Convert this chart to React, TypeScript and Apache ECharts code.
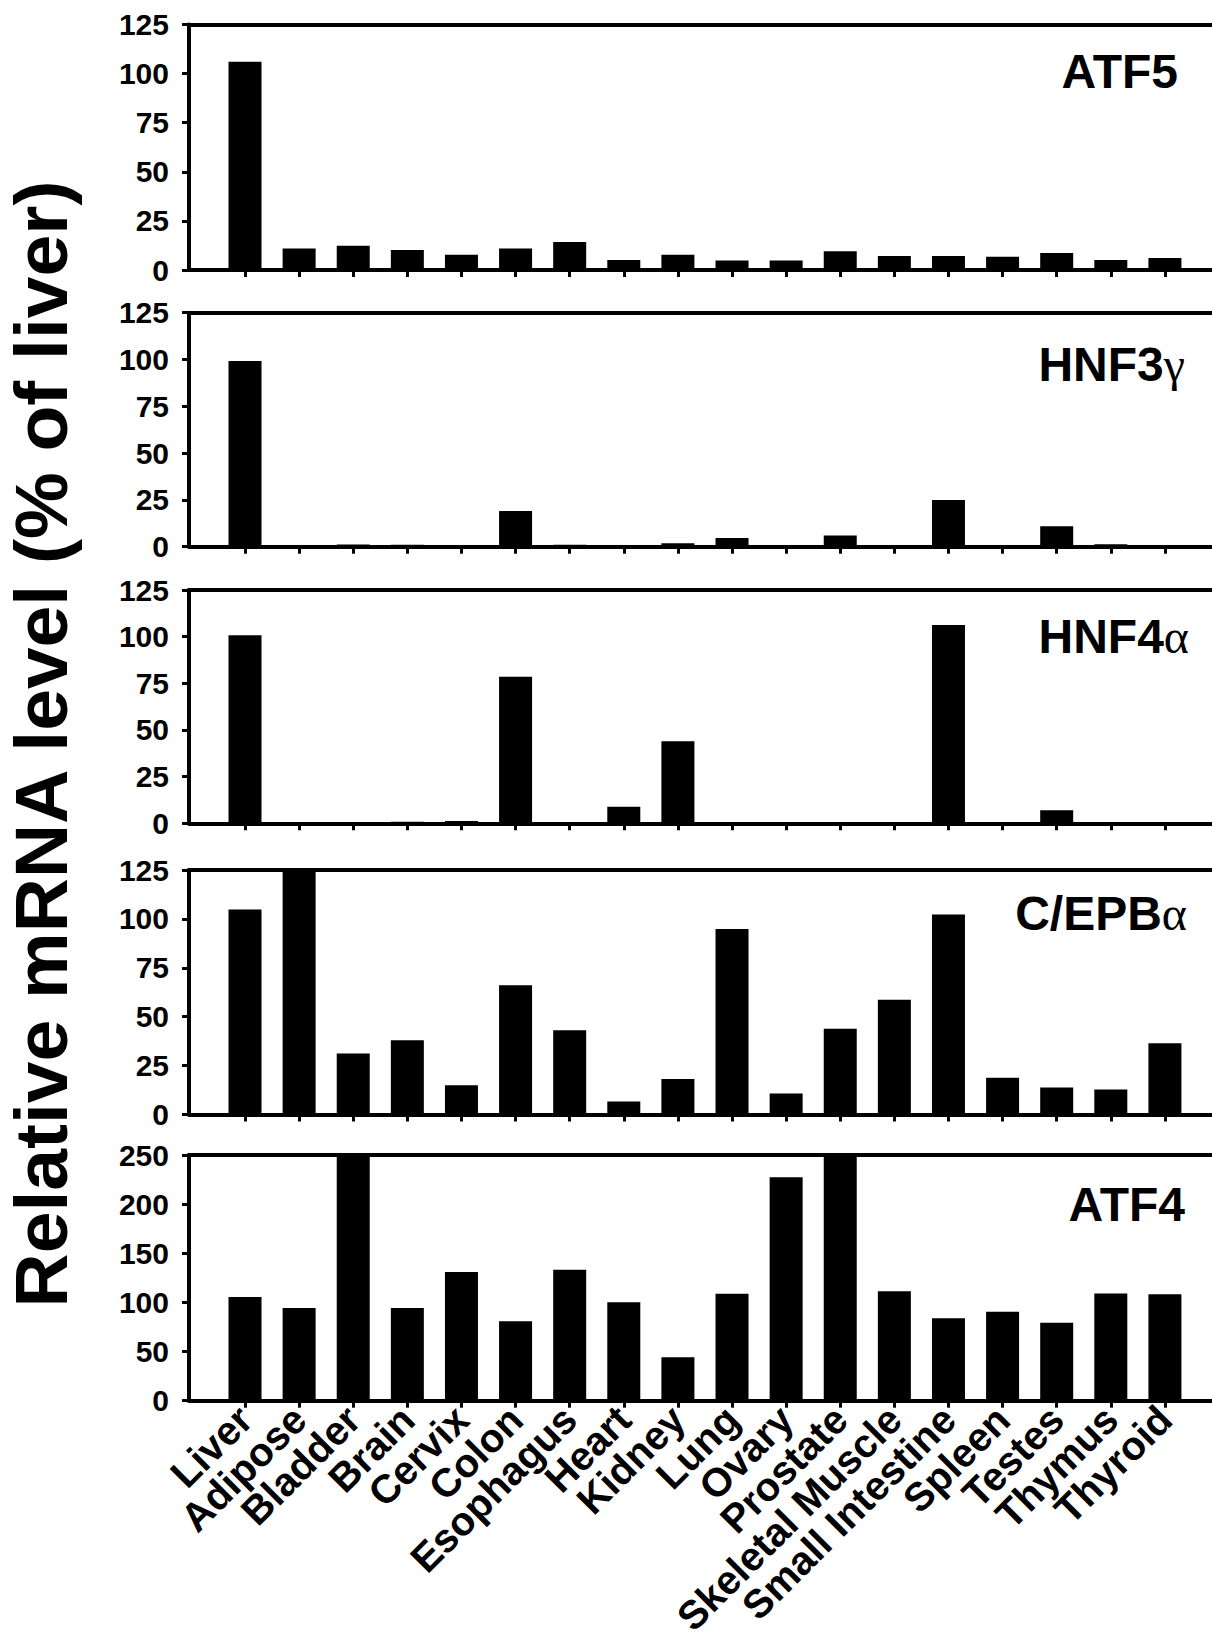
import React, { useEffect, useRef } from "react";
import * as echarts from "echarts";

// ---------- data ----------
const tissues = [
  "Liver", "Adipose", "Bladder", "Brain", "Cervix", "Colon", "Esophagus", "Heart", "Kidney",
  "Lung", "Ovary", "Prostate", "Skeletal Muscle", "Small Intestine", "Spleen", "Testes", "Thymus", "Thyroid",
];

const atf5 = [106, 11, 12.3, 10.2, 7.8, 11, 14.2, 5.1, 7.8, 4.9, 4.9, 9.5, 7.1, 7.1, 6.8, 8.6, 5.1, 6.1];
const hnf3g = [99.2, 0.9, 1.2, 1.0, 0.9, 19.1, 1.1, 0, 1.8, 4.6, 0, 6.0, 0, 24.9, 0, 10.9, 1.3, 0.7];
const hnf4a = [100.7, 0, 0, 0.8, 1.2, 78.5, 0, 8.9, 43.9, 0, 0, 0, 0, 106.2, 0, 7.0, 0, 0];
const cebpa = [104.8, 125, 31.2, 38.0, 14.9, 66.1, 43.1, 6.7, 18.1, 94.8, 10.8, 43.9, 58.7, 102.3, 18.8, 13.8, 12.8, 36.4];
const atf4 = [105.5, 94.3, 250, 94.3, 131, 80.8, 133.3, 100.1, 44.1, 108.9, 227.3, 250, 111.3, 83.8, 90.5, 79.3, 109.2, 108.2];

const panelNames = ["ATF5", "HNF3", "HNF4", "C/EPB", "ATF4"];
const panelGreek = ["", "γ", "α", "α", ""];
const panelSeries = [atf5, hnf3g, hnf4a, cebpa, atf4];
const yMax = [125, 125, 125, 125, 250];
const yStep = [25, 25, 25, 25, 50];
const yTitle = "Relative mRNA level (% of liver)";

// ---------- layout ----------
const panelTop = [24.5, 312.7, 590, 870, 1155];
const panelHeight = [245.5, 234, 233.3, 244.5, 245.7];
const titleRight = [1178, 1185, 1189, 1187, 1185];
const titleBaselineOffset = [64, 69, 63, 60, 66];
const GRID_LEFT = 189;
const X_MIN = -1.035;
const X_MAX = 17.87;
const FONT = "'Liberation Sans', Arial, sans-serif";

export default function App() {
  const ref = useRef<HTMLDivElement>(null);

  useEffect(() => {
    if (!ref.current) return;
    const chart = echarts.init(ref.current, undefined, { renderer: "svg" });
    const idx = tissues.map((_, i) => i);
    const W = chart.getWidth();
    const unit = (W - GRID_LEFT) / (X_MAX - X_MIN);
    const labelGridLeft = GRID_LEFT + (0 - X_MIN) * unit - unit / 2;
    const labelGridWidth = tissues.length * unit;
    const last = panelTop.length - 1;

    const grids: any[] = panelTop.map((t, i) => ({
      left: GRID_LEFT,
      right: 0,
      top: t,
      height: panelHeight[i],
      containLabel: false,
    }));
    // label-only grid aligned so category centres fall on the bar positions
    grids.push({
      left: labelGridLeft,
      width: labelGridWidth,
      top: panelTop[last],
      height: panelHeight[last],
      containLabel: false,
    });

    const xAxes: any[] = [];
    panelTop.forEach((_, i) => {
      xAxes.push({
        type: "value",
        gridIndex: i,
        position: "bottom",
        min: X_MIN,
        max: X_MAX,
        splitLine: { show: false },
        axisLine: { show: true, onZero: false, lineStyle: { color: "#000", width: 4 } },
        axisTick: {
          show: true,
          customValues: idx,
          length: 7,
          lineStyle: { color: "#000", width: 3 },
        },
        axisLabel: { show: false },
      });
      xAxes.push({
        type: "value",
        gridIndex: i,
        position: "top",
        min: X_MIN,
        max: X_MAX,
        splitLine: { show: false },
        axisLine: { show: true, onZero: false, lineStyle: { color: "#000", width: 4 } },
        axisTick: { show: false },
        axisLabel: { show: false },
      });
    });
    xAxes.push({
      type: "category",
      gridIndex: panelTop.length,
      position: "bottom",
      data: tissues,
      boundaryGap: true,
      axisLine: { show: false },
      axisTick: { show: false },
      splitLine: { show: false },
      axisLabel: {
        interval: 0,
        rotate: 45,
        margin: 12,
        color: "#000",
        fontSize: 40,
        fontWeight: "bold",
        fontFamily: FONT,
      },
    });

    const yAxes: any[] = panelTop.map((_, i) => ({
      type: "value",
      gridIndex: i,
      position: "left",
      min: 0,
      max: yMax[i],
      interval: yStep[i],
      splitLine: { show: false },
      axisLine: { show: true, onZero: false, lineStyle: { color: "#000", width: 4 } },
      axisTick: { show: true, length: 7, lineStyle: { color: "#000", width: 3 } },
      axisLabel: {
        margin: 20,
        color: "#000",
        fontSize: 30,
        fontWeight: "bold",
        fontFamily: FONT,
      },
    }));
    yAxes.push({
      type: "value",
      gridIndex: panelTop.length,
      min: 0,
      max: 1,
      show: false,
    });

    const series = panelSeries.map((vals, i) => ({
      type: "bar",
      xAxisIndex: 2 * i,
      yAxisIndex: i,
      barWidth: 33,
      clip: true,
      itemStyle: { color: "#000" },
      data: vals.map((v, k) => [k, v]),
    }));

    const titles = panelNames.map((name, i) => ({
      type: "text",
      x: titleRight[i],
      y: panelTop[i] + titleBaselineOffset[i] - 17,
      style: {
        text: panelGreek[i] ? `{b|${name}}{g|${panelGreek[i]}}` : `{b|${name}}`,
        align: "right",
        verticalAlign: "middle",
        fill: "#000",
        rich: {
          b: { fontSize: 48, fontWeight: "bold", fontFamily: FONT, fill: "#000", color: "#000" },
          g: { fontSize: 48, fontWeight: "normal", fontFamily: "'Liberation Serif', serif", fill: "#000", color: "#000" },
        },
      },
    }));

    chart.setOption({
      animation: false,
      backgroundColor: "#fff",
      grid: grids,
      xAxis: xAxes,
      yAxis: yAxes,
      series,
      graphic: [
        {
          type: "text",
          x: 41,
          y: 744,
          rotation: Math.PI / 2,
          style: {
            text: yTitle,
            align: "center",
            verticalAlign: "middle",
            fill: "#000",
            fontSize: 75,
            fontWeight: "bold",
            fontFamily: FONT,
          },
        },
        ...titles,
      ],
    });

    return () => chart.dispose();
  }, []);

  return (
    <div
      ref={ref}
      style={{ position: "absolute", left: 0, top: 0, width: 1212, height: 1644 }}
    />
  );
}
